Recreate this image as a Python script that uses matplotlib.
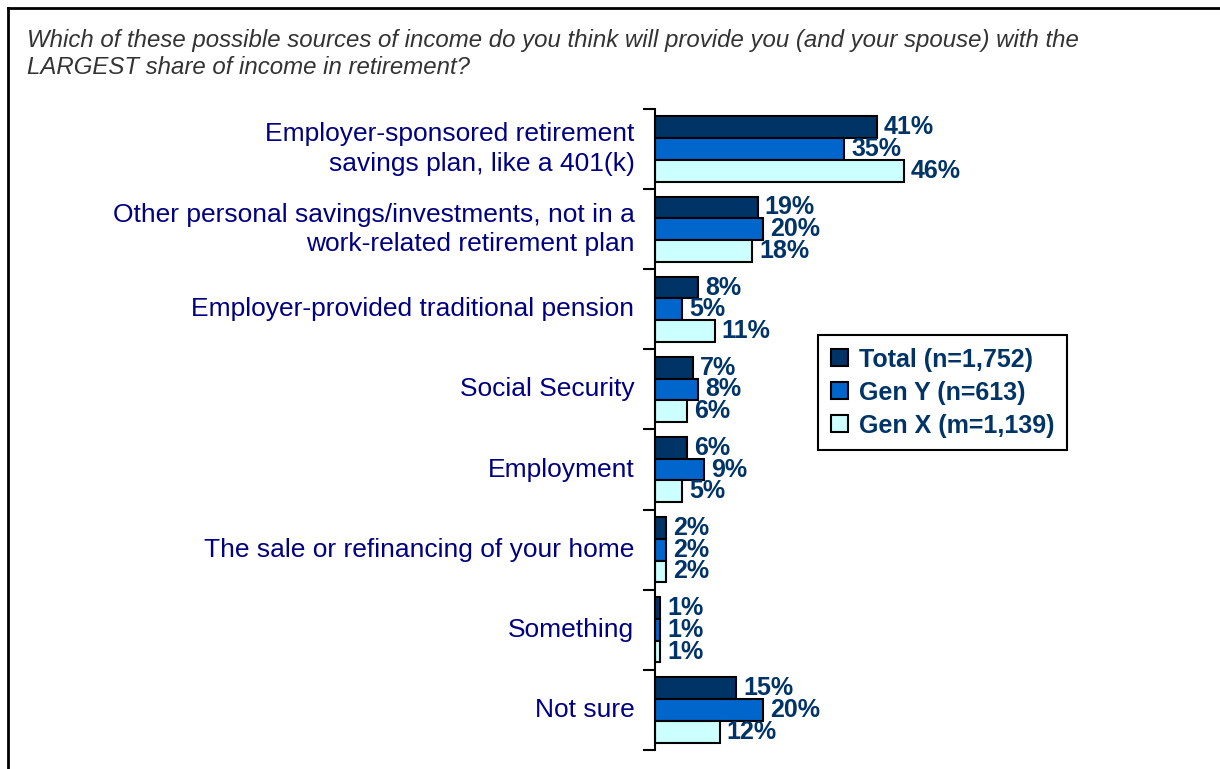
import numpy as np
from matplotlib import pyplot as plt
from matplotlib.lines import Line2D

plt.rcParams['font.family'] = ['Liberation Sans', 'DejaVu Sans']

# survey answers
categories = ['Employer-sponsored retirement\nsavings plan, like a 401(k)',
              'Other personal savings/investments, not in a\nwork-related retirement plan',
              'Employer-provided traditional pension',
              'Social Security',
              'Employment',
              'The sale or refinancing of your home',
              'Something',
              'Not sure']
total = [41, 19, 8, 7, 6, 2, 1, 15]
gen_y = [35, 20, 5, 8, 9, 2, 1, 20]
gen_x = [46, 18, 11, 6, 5, 2, 1, 12]

series_names = ['Total (n=1,752)', 'Gen Y (n=613)', 'Gen X (m=1,139)']
colors = ['#003366', '#0066CC', '#CCFFFF']
label_color = '#003366'

W, H = 1220, 769
fig = plt.figure(figsize=(W/100, H/100), dpi=100)

# outer frame (top and left only, the rest runs off the page)
fig.add_artist(Line2D([7.5/W, 1.0], [1-7.5/H, 1-7.5/H], color='black', lw=2,
                      transform=fig.transFigure))
fig.add_artist(Line2D([7.5/W, 7.5/W], [0, 1-7.5/H], color='black', lw=2,
                      transform=fig.transFigure))

fig.text(27/W, 1-54/H,
         'Which of these possible sources of income do you think will provide you (and your spouse) with the\n'
         'LARGEST share of income in retirement?',
         fontsize=17.3, style='italic', color='#333333', va='center', ha='left',
         linespacing=1.17)

ax = fig.add_axes([655/W, 1-750/H, 541/W, (750-109)/H])

y = np.arange(len(categories))
h = 0.271
for i, (vals, c) in enumerate(zip([total, gen_y, gen_x], colors)):
    pos = y + (i-1)*h
    ax.barh(pos, vals, height=h, color=c, edgecolor='black', linewidth=1.5,
            label=series_names[i])
    for p, v in zip(pos, vals):
        ax.annotate(f'{v}%', (v, p), xytext=(5, 0), textcoords='offset points',
                    ha='left', va='center', fontsize=18, fontweight='bold',
                    color=label_color)

ax.set_xlim(0, 100)
ax.set_ylim(len(categories)-0.5, -0.5)
ax.set_yticks(np.arange(len(categories)+1)-0.5)
ax.set_yticklabels([])
ax.tick_params(axis='y', length=9, width=1.5, direction='out')
for p, name in zip(y, categories):
    ax.text(-3.8, p, name, ha='right', va='center', fontsize=19, color='#000080',
            linespacing=1.27)
ax.set_xticks([])
for s in ['top', 'right', 'bottom']:
    ax.spines[s].set_visible(False)
ax.spines['left'].set_linewidth(1.5)

leg = fig.legend(loc='upper left', bbox_to_anchor=(818/W, 1-335/H),
                 frameon=True, fancybox=False, edgecolor='black', framealpha=1,
                 handlelength=0.68, handleheight=0.68, handletextpad=0.45,
                 labelspacing=0.36, borderpad=0.5, borderaxespad=0,
                 prop={'size': 18, 'weight': 'bold'})
leg.get_frame().set_linewidth(1.5)
for t in leg.get_texts():
    t.set_color(label_color)

fig.savefig('out.png', dpi=100)
